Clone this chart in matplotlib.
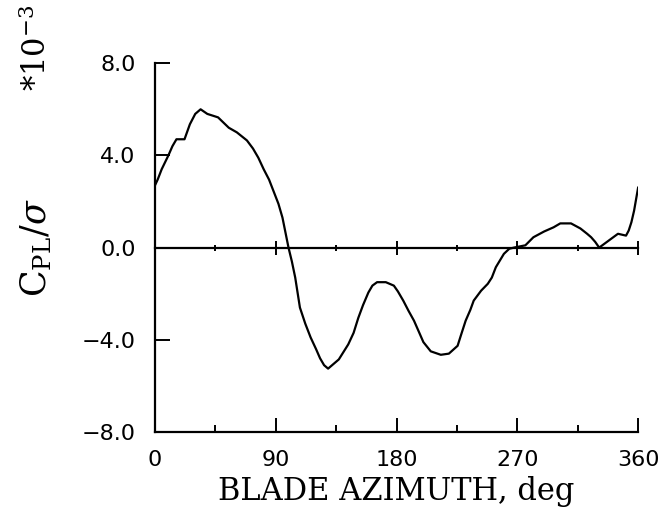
import matplotlib.pyplot as plt
from matplotlib.ticker import MultipleLocator

plt.rcParams['mathtext.fontset'] = 'dejavuserif'

# blade azimuth (deg) and C_PL/sigma (x 1e-3)
azimuth = [0, 2, 5, 10, 13, 16, 22, 26, 30, 34, 39, 47, 55, 61, 68.5, 73, 77,
           81, 85, 88, 92, 95, 99.5, 102, 104.5, 108, 112, 116, 120, 123, 126,
           129, 133, 137, 144, 148, 151.5, 155, 159, 162, 165.5, 172, 178, 181,
           185, 189, 193, 197, 200, 205.5, 213, 219, 225.5, 228, 231.5, 235,
           237.5, 243, 248, 251, 254, 260, 264, 267.5, 276, 282, 290, 297, 302,
           310, 317, 322, 325, 328, 331, 338, 345, 351, 353, 355, 357, 360]
cpl = [2.7, 2.95, 3.4, 4.0, 4.4, 4.7, 4.7, 5.35, 5.8, 6.0, 5.8, 5.65, 5.2,
       5.0, 4.65, 4.3, 3.9, 3.4, 2.95, 2.5, 1.9, 1.3, 0.0, -0.6, -1.3, -2.6,
       -3.3, -3.9, -4.4, -4.8, -5.1, -5.25, -5.05, -4.85, -4.2, -3.7, -3.05,
       -2.5, -1.95, -1.65, -1.5, -1.5, -1.65, -1.9, -2.3, -2.75, -3.17, -3.7,
       -4.1, -4.5, -4.65, -4.6, -4.26, -3.8, -3.17, -2.7, -2.3, -1.87, -1.57,
       -1.3, -0.85, -0.27, -0.05, 0.0, 0.1, 0.45, 0.7, 0.88, 1.05, 1.05,
       0.83, 0.6, 0.45, 0.25, 0.0, 0.3, 0.6, 0.52, 0.74, 1.1, 1.6, 2.6]

xticks = [0, 90, 180, 270, 360]
yticks = [-8, -4, 0, 4, 8]

fig = plt.figure(figsize=(6.64, 5.18), dpi=100)
ax = fig.add_axes([0.2334, 0.166, 0.7276, 0.712])

ax.plot(azimuth, cpl, color='black', lw=1.6)

ax.set_xlim(0, 360)
ax.set_ylim(-8, 8)
ax.set_xticks(xticks)
ax.set_xticklabels([str(v) for v in xticks])
ax.xaxis.set_minor_locator(MultipleLocator(45))
ax.set_yticks(yticks)
ax.set_yticklabels([('%.1f' % v).replace('-', '\u2212') for v in yticks])

for s in ['top', 'right']:
    ax.spines[s].set_visible(False)
for s in ['left', 'bottom']:
    ax.spines[s].set_linewidth(1.6)

ax.tick_params(axis='x', which='major', direction='in', length=10, width=1.4,
               labelsize=16, pad=13)
ax.tick_params(axis='x', which='minor', direction='in', length=5, width=1.4)
ax.tick_params(axis='y', which='major', direction='in', length=11, width=1.4,
               labelsize=16, pad=14)
for lab in ax.get_xticklabels() + ax.get_yticklabels():
    lab.set_family('DejaVu Sans')

# zero line with crossing ticks
sec = ax.secondary_xaxis(0.5)
sec.set_xticks(xticks)
sec.xaxis.set_minor_locator(MultipleLocator(45))
sec.tick_params(which='major', direction='inout', length=10, width=1.4,
                labelbottom=False, labeltop=False)
sec.tick_params(which='minor', direction='inout', length=5, width=1.4)
for sp in sec.spines.values():
    sp.set_linewidth(1.6)

ax.set_xlabel('BLADE AZIMUTH, deg', family='DejaVu Serif', fontsize=22,
              labelpad=4)
ax.set_ylabel(r'$\mathrm{C_{PL}}/\sigma$', family='DejaVu Serif', fontsize=25,
              labelpad=20)

fig.text(0.055, 0.99, r'*10$^{-3}$', rotation=90, ha='center', va='top',
         family='DejaVu Serif', fontsize=22)

plt.savefig('out.png', dpi=100)
